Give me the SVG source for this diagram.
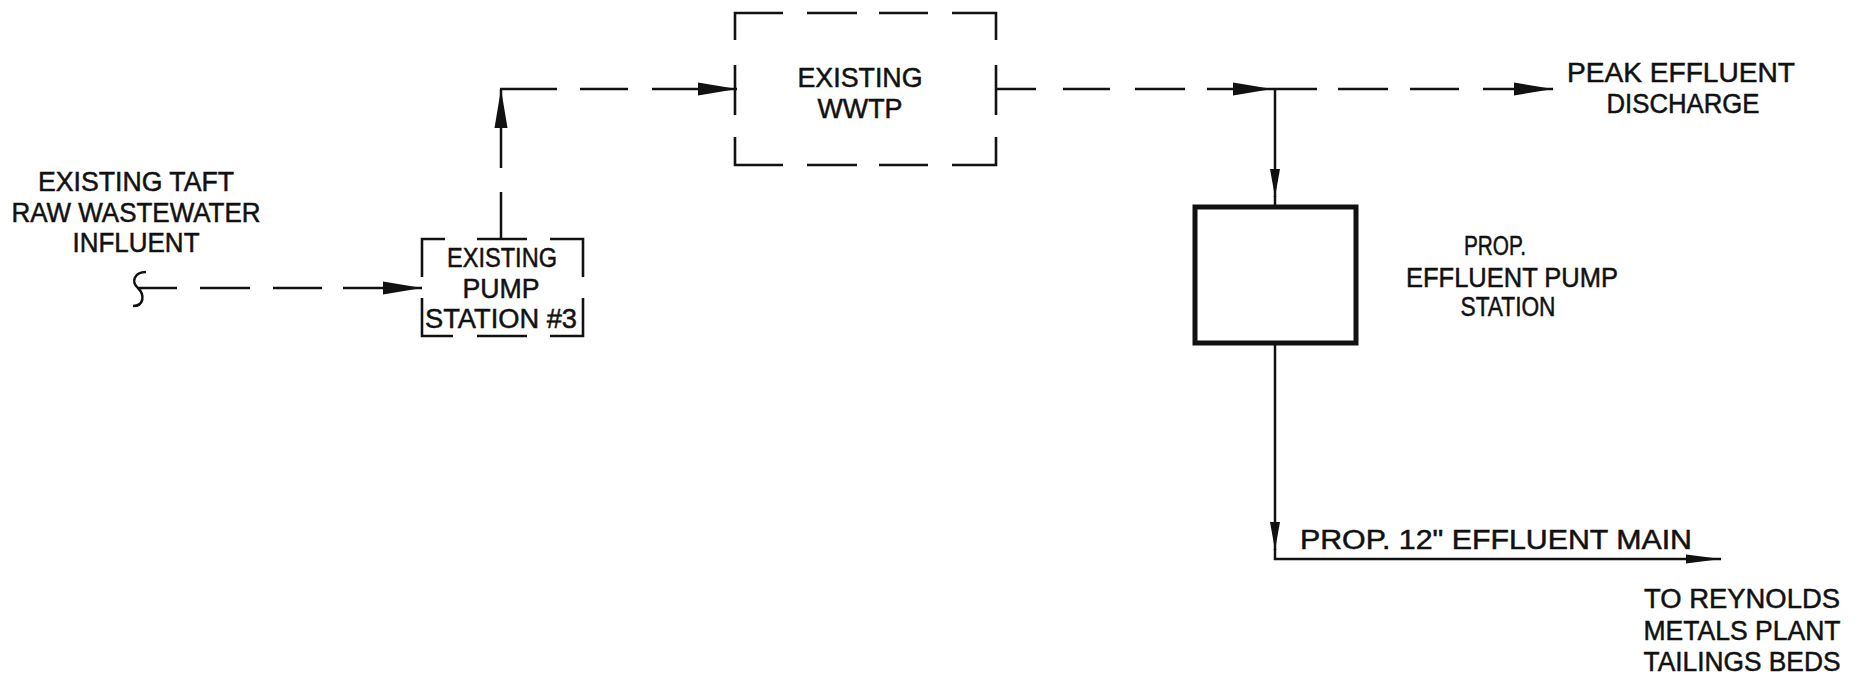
<svg xmlns="http://www.w3.org/2000/svg" width="1864" height="679" viewBox="0 0 1864 679">
<style>
  text { font-family: "Liberation Sans", Arial, sans-serif; font-size: 27px; fill: #111; stroke: #111; stroke-width: 0.5; }
  .c { text-anchor: middle; }
  .ln { fill: none; stroke: #111; stroke-width: 2.5; stroke-linecap: butt; }
  .box { fill: none; stroke: #111; stroke-width: 2.6; }
  .thick { fill: #fff; stroke: #111; stroke-width: 5; }
</style>
<defs>
  <marker id="arrowL" markerUnits="userSpaceOnUse" markerWidth="40" markerHeight="14" refX="39" refY="7" orient="auto">
    <path d="M0,0.5 L39,7 L0,13.5 z" fill="#111"/>
  </marker>
  <marker id="arrowS" markerUnits="userSpaceOnUse" markerWidth="30" markerHeight="12" refX="28" refY="6" orient="auto">
    <path d="M0,1 L28,6 L0,11 z" fill="#111"/>
  </marker>
  <marker id="arrowM" markerUnits="userSpaceOnUse" markerWidth="36" markerHeight="12" refX="35" refY="6" orient="auto">
    <path d="M0,1.5 L35,6 L0,10.5 z" fill="#111"/>
  </marker>
</defs>
<rect width="1864" height="679" fill="#fff"/>

<g id="influent">
  <text class="c" x="136" y="191" textLength="196" lengthAdjust="spacingAndGlyphs">EXISTING TAFT</text>
  <text class="c" x="136" y="222" textLength="249" lengthAdjust="spacingAndGlyphs">RAW WASTEWATER</text>
  <text class="c" x="136" y="252" textLength="127" lengthAdjust="spacingAndGlyphs">INFLUENT</text>
</g>

<g id="pump-station-3">
  <path class="box" d="M422 277 V239 H445 M477 239 H527 M550 239 H583 V277 M422 298 V336 H453 M477 336 H527 M550 336 H583 V298"/>
  <text class="c" x="502" y="267" textLength="110" lengthAdjust="spacingAndGlyphs">EXISTING</text>
  <text class="c" x="501" y="298" textLength="77" lengthAdjust="spacingAndGlyphs">PUMP</text>
  <text class="c" x="501" y="328" textLength="152" lengthAdjust="spacingAndGlyphs">STATION  #3</text>
</g>

<g id="wwtp">
  <path class="box" d="M735 40 V13 H783 M807 13 H857 M879 13 H928 M952 13 H996 V40 M735 65 V115 M996 65 V115 M735 137 V165 H783 M807 165 H857 M879 165 H928 M952 165 H996 V137"/>
  <text class="c" x="860" y="87" textLength="125" lengthAdjust="spacingAndGlyphs">EXISTING</text>
  <text class="c" x="860" y="118" textLength="85" lengthAdjust="spacingAndGlyphs">WWTP</text>
</g>

<g id="peak-discharge">
  <text class="c" x="1681" y="82" textLength="228" lengthAdjust="spacingAndGlyphs">PEAK EFFLUENT</text>
  <text class="c" x="1683" y="113" textLength="153" lengthAdjust="spacingAndGlyphs">DISCHARGE</text>
</g>

<g id="prop-pump-station">
  <rect class="thick" x="1195" y="207" width="161" height="136"/>
  <text class="c" x="1495" y="255" textLength="62" lengthAdjust="spacingAndGlyphs">PROP.</text>
  <text class="c" x="1512" y="287" textLength="212" lengthAdjust="spacingAndGlyphs">EFFLUENT PUMP</text>
  <text class="c" x="1508" y="316" textLength="95" lengthAdjust="spacingAndGlyphs">STATION</text>
</g>

<g id="reynolds">
  <text class="c" x="1742" y="608" textLength="196" lengthAdjust="spacingAndGlyphs">TO REYNOLDS</text>
  <text class="c" x="1742" y="640" textLength="197" lengthAdjust="spacingAndGlyphs">METALS PLANT</text>
  <text class="c" x="1742" y="671" textLength="197" lengthAdjust="spacingAndGlyphs">TAILINGS BEDS</text>
</g>

<g id="connectors">
  <path class="ln" d="M146 272 C134 272 131 282 138 288 C145 295 144 306 133 306"/>
  <path class="ln" d="M139 288 H177 M200 288 H250 M273 288 H322 M343 288 H422" marker-end="url(#arrowL)"/>
  <path class="ln" d="M501 239 V192 M501 168 V89" marker-end="url(#arrowL)"/>
  <path class="ln" d="M500 89 H557 M580 89 H628 M652 89 H737" marker-end="url(#arrowL)"/>
  <path class="ln" d="M996 89 H1036 M1063 89 H1110 M1135 89 H1185 M1207 89 H1272" marker-end="url(#arrowL)"/>
  <path class="ln" d="M1272 89 H1317 M1338 89 H1388 M1410 89 H1459 M1483 89 H1553" marker-end="url(#arrowL)"/>
  <path class="ln" d="M1275 89 V197" marker-end="url(#arrowS)"/>
  <path class="ln" d="M1275 196 V207"/>
  <path class="ln" d="M1275 343 V550" marker-end="url(#arrowS)"/>
  <path class="ln" d="M1275 549 V559 H1721" marker-end="url(#arrowM)"/>
  <text x="1300" y="549" textLength="392" lengthAdjust="spacingAndGlyphs">PROP. 12" EFFLUENT MAIN</text>
</g>
</svg>
